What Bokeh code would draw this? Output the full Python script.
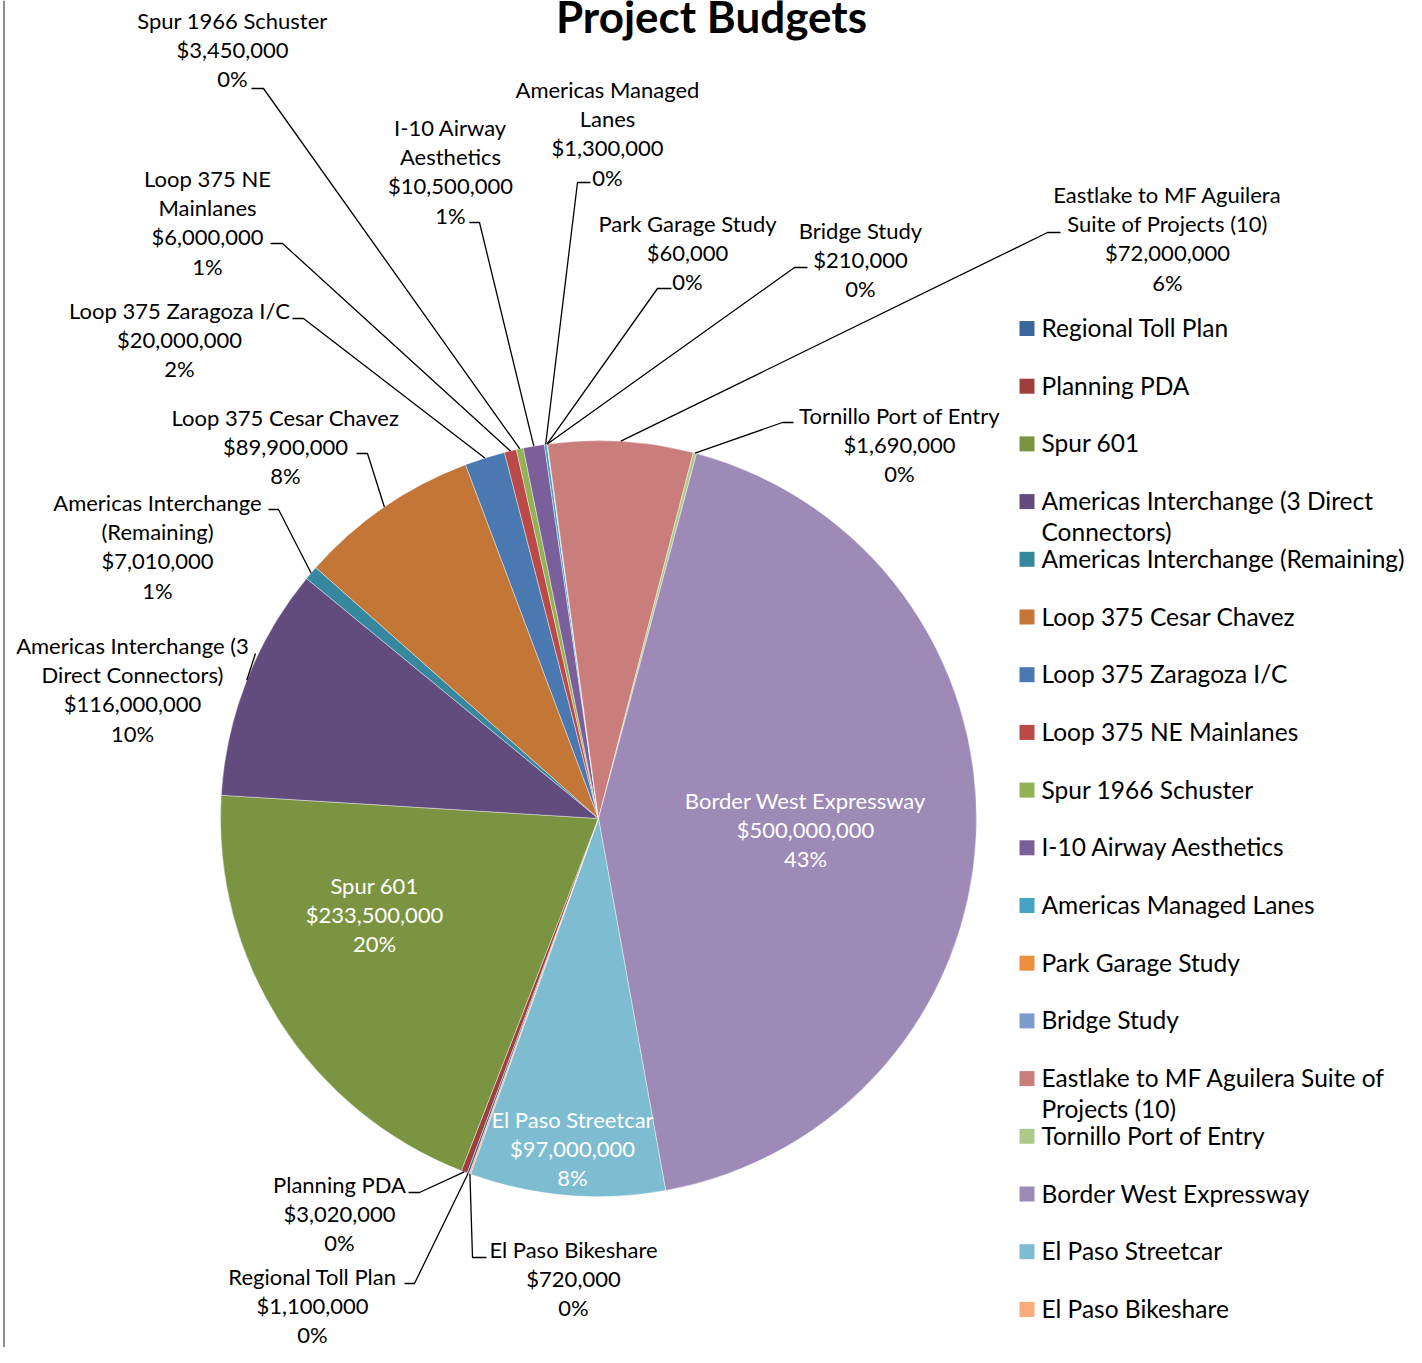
import numpy as np
from bokeh.plotting import figure
from bokeh.models import Range1d, ColumnDataSource
from bokeh.embed import file_html
from bokeh.resources import INLINE
from bokeh.core.properties import value

# ---------------- data ----------------
categories = [
    "Regional Toll Plan", "Planning PDA", "Spur 601",
    "Americas Interchange (3 Direct Connectors)", "Americas Interchange (Remaining)",
    "Loop 375 Cesar Chavez", "Loop 375 Zaragoza I/C", "Loop 375 NE Mainlanes",
    "Spur 1966 Schuster", "I-10 Airway Aesthetics", "Americas Managed Lanes",
    "Park Garage Study", "Bridge Study", "Eastlake to MF Aguilera Suite of Projects (10)",
    "Tornillo Port of Entry", "Border West Expressway", "El Paso Streetcar", "El Paso Bikeshare",
]
budgets = [
    1100000, 3020000, 233500000, 116000000, 7010000, 89900000, 20000000, 6000000,
    3450000, 10500000, 1300000, 60000, 210000, 72000000, 1690000, 500000000,
    97000000, 720000,
]
colors = [
    "#3c679a", "#9e3f3c", "#7a9441", "#624c7e", "#35889d", "#c37636",
    "#4a78b0", "#bb4947", "#93b254", "#7a5f9a", "#45a4c1", "#ee8e3f",
    "#7d9ccb", "#ca7e7c", "#afc98a", "#9d8ab6", "#7ebcd1", "#f8aa7a",
]
# wrapped names as they appear in the data labels
label_names = [
    "Regional Toll Plan", "Planning PDA", "Spur 601",
    "Americas Interchange (3\nDirect Connectors)", "Americas Interchange\n(Remaining)",
    "Loop 375 Cesar Chavez", "Loop 375 Zaragoza I/C", "Loop 375 NE\nMainlanes",
    "Spur 1966 Schuster", "I-10 Airway\nAesthetics", "Americas Managed\nLanes",
    "Park Garage Study", "Bridge Study", "Eastlake to MF Aguilera\nSuite of Projects (10)",
    "Tornillo Port of Entry", "Border West Expressway", "El Paso Streetcar", "El Paso Bikeshare",
]
# wrapped names as they appear in the legend
legend_names = [
    "Regional Toll Plan", "Planning PDA", "Spur 601",
    "Americas Interchange (3 Direct\nConnectors)", "Americas Interchange (Remaining)",
    "Loop 375 Cesar Chavez", "Loop 375 Zaragoza I/C", "Loop 375 NE Mainlanes",
    "Spur 1966 Schuster", "I-10 Airway Aesthetics", "Americas Managed Lanes",
    "Park Garage Study", "Bridge Study", "Eastlake to MF Aguilera Suite of\nProjects (10)",
    "Tornillo Port of Entry", "Border West Expressway", "El Paso Streetcar", "El Paso Bikeshare",
]
title = "Project Budgets"

# ---------------- layout ----------------
W, H = 1406, 1347
CX, CY, R = 598, 818, 378
FIRST_ANGLE = 200          # degrees clockwise from 12 o'clock
FONT = "Lato"
LABEL_SIZE = 22
LEGEND_SIZE = 24.5
LINE_H = 29.2
TXT_SHIFT = 8              # renderer places baseline text this much lower
TITLE_SHIFT = 18
TITLE_BASELINE = 33

# label placement: index -> (center x, first baseline y, inside?)
label_pos = {
    0: (312, 1284, False), 1: (339, 1192, False), 2: (374, 893, True),
    3: (132, 653, False), 4: (157, 510, False), 5: (285, 425, False),
    6: (179, 318, False), 7: (207, 186, False), 8: (232, 28, False),
    9: (450, 135, False), 10: (607, 97, False), 11: (687, 231, False),
    12: (860, 238, False), 13: (1167, 202, False), 14: (899, 423, False),
    15: (805, 808, True), 16: (572, 1127, True), 17: (573, 1257, False),
}
# leader lines: index -> (attach x, attach y, bend x)
leaders = {
    0: (404, 1283, 414), 1: (408, 1192, 419), 3: (255, 653, 255),
    4: (268, 509, 278), 5: (356, 453, 367), 6: (292, 318, 303),
    7: (270, 243, 282), 8: (251, 88, 263), 9: (469, 222, 479),
    10: (590, 182, 577), 11: (671, 288, 657), 12: (807, 267, 794),
    13: (1060, 232, 1047), 14: (793, 422, 782), 17: (486, 1257, 472),
}

# ---------------- computations ----------------
vals = np.array(budgets, dtype=float)
total = vals.sum()
frac = vals / total
cum = np.concatenate([[0.0], np.cumsum(frac)])
a0 = FIRST_ANGLE + 360 * cum[:-1]
a1 = FIRST_ANGLE + 360 * cum[1:]
amid = (a0 + a1) / 2
pcts = [f"{int(round(v / total * 100))}%" for v in vals]
money = [f"${int(v):,}" for v in vals]

p = figure(width=W, height=H, x_range=Range1d(0, W), y_range=Range1d(-H, 0),
           output_backend="svg", toolbar_location=None, x_axis_type=None, y_axis_type=None,
           min_border=0)
p.min_border_left = p.min_border_right = p.min_border_top = p.min_border_bottom = 0
p.grid.visible = False
p.outline_line_color = None
p.background_fill_color = "white"
p.border_fill_color = "white"

src = ColumnDataSource(dict(
    start=np.radians(90 - a1), end=np.radians(90 - a0), color=colors, name=categories))
p.wedge(x=CX, y=-CY, radius=R, start_angle="start", end_angle="end", direction="anticlock",
        fill_color="color", line_color="white", line_width=0.4, source=src)

# leader lines
lx, ly = [], []
for i, (ax, ay, bx) in leaders.items():
    px = CX + R * np.sin(np.radians(amid[i]))
    py = CY - R * np.cos(np.radians(amid[i]))
    lx.append([ax, bx, px])
    ly.append([-ay, -ay, -py])
p.multi_line(xs=lx, ys=ly, line_color="black", line_width=1.3)

# data labels
tx, ty, tt, tc = [], [], [], []
for i in range(len(categories)):
    x, y0, inside = label_pos[i]
    lines = label_names[i].split("\n") + [money[i], pcts[i]]
    for k, s in enumerate(lines):
        tx.append(x); ty.append(-(y0 - TXT_SHIFT + k * LINE_H)); tt.append(s)
        tc.append("white" if inside else "black")
p.text(x=tx, y=ty, text=tt, text_color=tc, text_font=value(FONT),
       text_font_size=f"{LABEL_SIZE}px", text_align="center", text_baseline="alphabetic")

# legend
LEG_X, LEG_Y0, LEG_DY, LEG_LH = 1019, 328, 57.7, 31
sq_y = [-(LEG_Y0 + i * LEG_DY) for i in range(len(categories))]
p.rect(x=LEG_X + 7.5, y=sq_y, width=15, height=15, fill_color=colors, line_color=None)
gx, gy, gt = [], [], []
for i, nm in enumerate(legend_names):
    for k, s in enumerate(nm.split("\n")):
        gx.append(LEG_X + 22)
        gy.append(-(LEG_Y0 + 7 - TXT_SHIFT + i * LEG_DY + k * LEG_LH))
        gt.append(s)
p.text(x=gx, y=gy, text=gt, text_color="black", text_font=value(FONT),
       text_font_size=f"{LEGEND_SIZE}px", text_align="left", text_baseline="alphabetic")

# title
p.text(x=[711], y=[-(TITLE_BASELINE - TITLE_SHIFT)], text=[title], text_color="black",
       text_font=value(FONT), text_font_size="44px", text_font_style="bold",
       text_align="center", text_baseline="alphabetic")

# chart-area left border
p.segment(x0=[3.5], y0=[0], x1=[3.5], y1=[-H], line_color="#8c8c8c", line_width=2)

open("out.html", "w").write(file_html(p, INLINE))
